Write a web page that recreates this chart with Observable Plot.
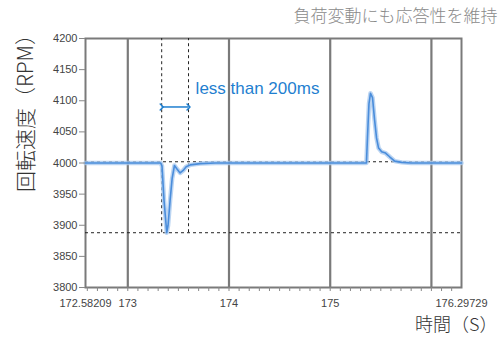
<!DOCTYPE html>
<html><head><meta charset="utf-8">
<script src="https://cdn.jsdelivr.net/npm/d3@7"></script>
<script src="https://cdn.jsdelivr.net/npm/@observablehq/plot@0.6"></script>
<style>body{margin:0;background:#fff} svg{display:block;font-family:"Liberation Sans",Arial,sans-serif}</style>
</head><body><div id="chart"></div>
<script>
const title = "負荷変動にも応答性を維持";
const yLabel = "回転速度（RPM）";
const xLabel = "時間（S）";
const annotation = "less than 200ms";
const xDomain = [172.58209, 176.29729];
const yDomain = [3800, 4200];
const xTickLabels = [172.58209, 173, 174, 175, 176.29729];
const gridX = [173, 174, 175, 176];
const yTicks = [3800, 3850, 3900, 3950, 4000, 4050, 4100, 4150, 4200];
const time = [172.58209, 173.325, 173.338, 173.358, 173.385, 173.398, 173.418, 173.438, 173.461, 173.488, 173.517, 173.547, 173.577, 173.617, 173.716, 173.866,
  175.358, 175.368, 175.383, 175.398, 175.418, 175.438, 175.458, 175.478, 175.508, 175.547, 175.587, 175.637, 175.706, 175.8, 176.29729];
const rpm = [4000, 4000, 3995, 3940, 3888, 3900, 3940, 3975, 3996, 3990, 3984, 3988, 3994, 3997, 3999, 4000,
  4000, 4040, 4095, 4112, 4105, 4070, 4040, 4024, 4018, 4016, 4010, 4003, 4001, 4000, 4000];
const refLevel = 4002;
const minLevel = 3888;
const markerStart = 173.335;
const markerEnd = 173.6;
const arrowLevel = 4090;
const annX = 173.67, annY = 4119;

const minorTicks = d3.range(1726, 1763).map(d => d / 10);
const data = time.map((t, i) => ({t, v: rpm[i]}));
const blue = "#1f7fd0";

const chart = Plot.plot({
  width: 499, height: 338,
  marginLeft: 85, marginRight: 38, marginTop: 38, marginBottom: 51,
  x: {domain: xDomain}, y: {domain: yDomain},
  style: {fontFamily: '"Liberation Sans", Arial, sans-serif', fontSize: "11px", color: "#444"},
  marks: [
    Plot.ruleX(gridX, {stroke: "#7a7a7a", strokeWidth: 2.2}),
    Plot.frame({stroke: "#7a7a7a", strokeWidth: 2}),
    Plot.ruleY([refLevel], {stroke: "#222", strokeDasharray: "3,3", strokeWidth: 1}),
    Plot.ruleY([minLevel], {stroke: "#222", strokeDasharray: "3,3", strokeWidth: 1}),
    Plot.ruleX([markerStart, markerEnd], {y1: minLevel, y2: yDomain[1], stroke: "#222", strokeDasharray: "3,3", strokeWidth: 1}),
    Plot.line(data, {x: "t", y: "v", stroke: "#a9c9ef", strokeWidth: 4.5, strokeOpacity: 0.8}),
    Plot.line(data, {x: "t", y: "v", stroke: "#4a8ddb", strokeWidth: 1.6}),
    Plot.link([0], {x1: markerStart, x2: markerEnd, y1: arrowLevel, y2: arrowLevel, stroke: blue, strokeWidth: 1.5, markerStart: "arrow", markerEnd: "arrow"}),
    Plot.text([annotation], {x: annX, y: annY, textAnchor: "start", fill: blue, fontSize: 17}),
    Plot.axisY({ticks: yTicks, tickSize: 6, tickPadding: 2, label: null, stroke: "#888", fill: "#444", tickFormat: d => String(d)}),
    Plot.axisX({ticks: minorTicks, tickSize: 4, text: null, label: null, stroke: "#888"}),
    Plot.axisX({ticks: xTickLabels, tickSize: 0, tickPadding: 12, label: null, fill: "#444", tickFormat: d => String(d)}),
    Plot.text([title], {frameAnchor: "top-right", textAnchor: "end", lineAnchor: "middle", dx: 36, dy: -22, fill: "#8a8a8a", fontSize: 17, fontFamily: '"Noto Sans CJK JP", sans-serif', fontWeight: 300}),
    Plot.text([xLabel], {frameAnchor: "bottom-right", textAnchor: "end", lineAnchor: "middle", dx: 36, dy: 38, fill: "#333", fontSize: 18, fontFamily: '"Noto Sans CJK JP", sans-serif', fontWeight: 300}),
    Plot.text([yLabel], {frameAnchor: "left", rotate: -90, textAnchor: "middle", lineAnchor: "middle", dx: -59, dy: -55, fill: "#333", fontSize: 21, fontFamily: '"Noto Sans CJK JP", sans-serif', fontWeight: 300})
  ]
});
document.getElementById("chart").append(chart);
</script>
</body></html>
